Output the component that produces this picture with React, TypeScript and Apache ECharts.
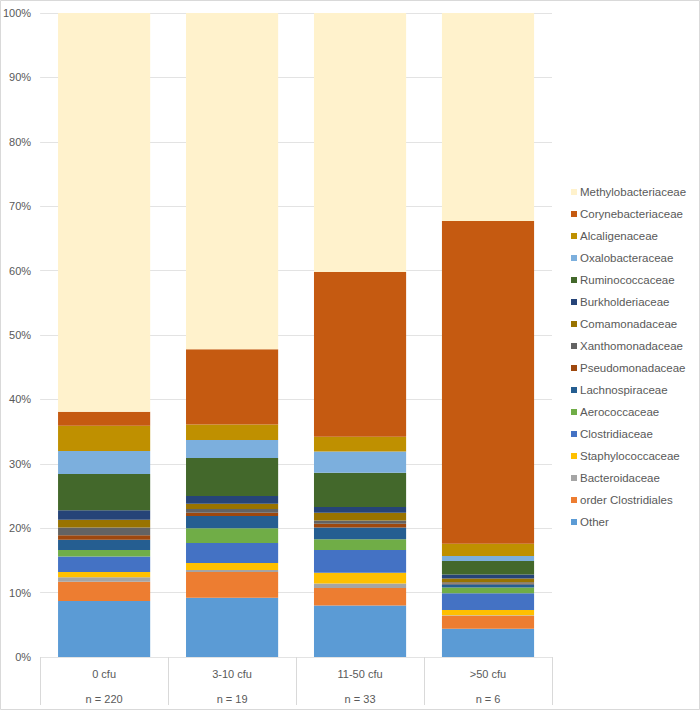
import React, { useEffect, useRef } from "react";
import * as echarts from "echarts";

const categories = ["0 cfu", "3-10 cfu", "11-50 cfu", ">50 cfu"];
const sampleSizes = ["n = 220", "n = 19", "n = 33", "n = 6"];

// bottom to top stacking order
const seriesNames = [
  "Other",
  "order Clostridiales",
  "Bacteroidaceae",
  "Staphylococcaceae",
  "Clostridiaceae",
  "Aerococcaceae",
  "Lachnospiraceae",
  "Pseudomonadaceae",
  "Xanthomonadaceae",
  "Comamonadaceae",
  "Burkholderiaceae",
  "Ruminococcaceae",
  "Oxalobacteraceae",
  "Alcaligenaceae",
  "Corynebacteriaceae",
  "Methylobacteriaceae",
];

const other = [8.7, 9.2, 8.0, 4.4];
const orderClostridiales = [3.0, 4.0, 2.7, 2.0];
const bacteroidaceae = [0.7, 0.3, 0.7, 0.1];
const staphylococcaceae = [0.8, 1.1, 1.7, 0.8];
const clostridiaceae = [2.4, 3.1, 3.5, 2.6];
const aerococcaceae = [1.0, 2.3, 1.7, 0.9];
const lachnospiraceae = [1.6, 1.9, 1.8, 0.5];
const pseudomonadaceae = [0.7, 0.5, 0.6, 0.1];
const xanthomonadaceae = [1.2, 0.6, 0.5, 0.2];
const comamonadaceae = [1.2, 0.8, 1.2, 0.6];
const burkholderiaceae = [1.5, 1.2, 0.9, 0.6];
const ruminococcaceae = [5.6, 5.9, 5.3, 2.1];
const oxalobacteraceae = [3.6, 2.8, 3.3, 0.8];
const alcaligenaceae = [3.9, 2.4, 2.3, 1.9];
const corynebacteriaceae = [2.2, 11.7, 25.6, 50.1];
const methylobacteriaceae = [61.9, 52.2, 40.2, 32.3];

const seriesValues = [
  other,
  orderClostridiales,
  bacteroidaceae,
  staphylococcaceae,
  clostridiaceae,
  aerococcaceae,
  lachnospiraceae,
  pseudomonadaceae,
  xanthomonadaceae,
  comamonadaceae,
  burkholderiaceae,
  ruminococcaceae,
  oxalobacteraceae,
  alcaligenaceae,
  corynebacteriaceae,
  methylobacteriaceae,
];

const seriesColors = [
  "#5B9BD5",
  "#ED7D31",
  "#A5A5A5",
  "#FFC000",
  "#4472C4",
  "#70AD47",
  "#255E91",
  "#9E480E",
  "#636363",
  "#997300",
  "#264478",
  "#43682B",
  "#7CAFDD",
  "#BF9000",
  "#C55A11",
  "#FFF2CC",
];

const yTicks = [0, 10, 20, 30, 40, 50, 60, 70, 80, 90, 100];

export default function App() {
  const ref = useRef<HTMLDivElement>(null);

  useEffect(() => {
    if (!ref.current) return;
    const chart = echarts.init(ref.current, null, { renderer: "svg" });
    const font = "'Liberation Sans', Arial, sans-serif";
    chart.setOption({
      animation: false,
      backgroundColor: "#ffffff",
      textStyle: { fontFamily: font },
      grid: { left: 40, top: 13, width: 512, height: 644, containLabel: false },
      legend: {
        orient: "vertical",
        left: 566,
        top: 181,
        icon: "rect",
        itemWidth: 6,
        itemHeight: 6,
        itemGap: 10,
        selectedMode: false,
        data: [...seriesNames].reverse(),
        textStyle: { color: "#595959", fontSize: 11.5, fontFamily: font, padding: [0, 0, 0, -2] },
      },
      xAxis: {
        type: "category",
        data: categories.map((c, i) => c + "\n" + sampleSizes[i]),
        axisLine: { show: false },
        axisTick: { show: true, length: 48, lineStyle: { color: "#D9D9D9" } },
        axisLabel: {
          color: "#595959",
          fontSize: 11,
          lineHeight: 25,
          margin: 4,
          fontFamily: font,
        },
        splitLine: { show: false },
      },
      yAxis: {
        type: "value",
        min: 0,
        max: 100,
        interval: 10,
        axisLine: { show: false },
        axisTick: { show: false },
        axisLabel: {
          formatter: (v: number) => (yTicks.includes(v) ? v + "%" : ""),
          color: "#595959",
          fontSize: 11,
          margin: 9,
          fontFamily: font,
        },
        splitLine: { lineStyle: { color: "#E3E3E3" } },
      },
      graphic: [
        {
          type: "rect",
          shape: { x: 0.5, y: 0.5, width: 699, height: 709 },
          style: { fill: "none", stroke: "#D9D9D9", lineWidth: 1 },
          silent: true,
        },
      ],
      series: seriesNames.map((name, i) => ({
        name,
        type: "bar",
        stack: "total",
        barCategoryGap: "28%",
        data: seriesValues[i],
        itemStyle: { color: seriesColors[i] },
        emphasis: { disabled: true },
      })),
    });
    return () => chart.dispose();
  }, []);

  return (
    <div
      ref={ref}
      style={{ position: "fixed", left: 0, top: 0, width: 700, height: 712 }}
    />
  );
}
